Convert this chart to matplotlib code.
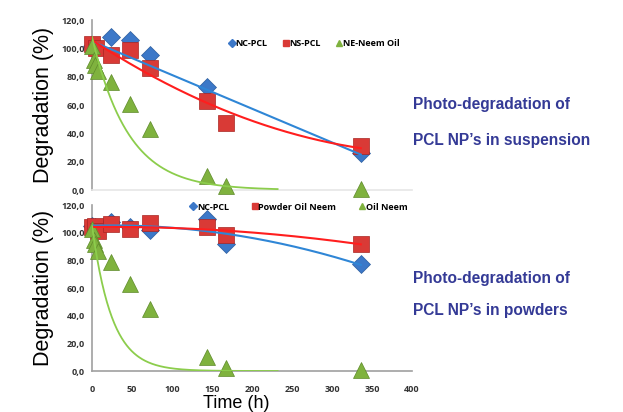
import numpy as np
import matplotlib
matplotlib.use("Agg")
import matplotlib.pyplot as plt
from matplotlib.lines import Line2D

# ---------------- data ----------------
# Top panel: suspension
top_nc_t = [0, 24, 48, 72, 144, 336]
top_nc_y = [102, 108, 106, 95, 73, 26]
top_nc_trend = (105.0, -0.238)     # linear trendline: intercept, slope
top_ns_t = [0, 5, 24, 48, 72, 144, 168, 336]
top_ns_y = [103, 100, 95, 99, 86, 63, 47, 31]
top_ne_t = [0, 2, 4, 8, 24, 48, 72, 144, 168, 336]
top_ne_y = [102, 92, 88, 84, 76, 61, 43, 10, 3, 0.5]
top_green_trend = (108.0, 0.022)   # a*exp(-k t)
# Bottom panel: powders
bot_nc_t = [0, 4, 24, 48, 72, 144, 168, 336]
bot_nc_y = [105, 104, 108, 104, 102, 110, 92, 77]
bot_pw_t = [0, 4, 8, 24, 48, 72, 144, 168, 336]
bot_pw_y = [104, 105, 101, 106, 103, 107, 104, 98, 92]
bot_oil_t = [0, 2, 4, 8, 24, 48, 72, 144, 168, 336]
bot_oil_y = [103, 95, 92, 87, 79, 63, 45, 10, 2, 0.5]
bot_green_trend = (105.0, 0.040)
green_trend_end = 232

yticks = [0, 20, 40, 60, 80, 100, 120]
xticks = [0, 50, 100, 150, 200, 250, 300, 350, 400]
top_legend = ["NC-PCL", "NS-PCL", "NE-Neem Oil"]
bot_legend = ["NC-PCL", "Powder Oil Neem", "Oil Neem"]

BLUE = "#3C78C8"
RED = "#D93A36"
GREEN = "#7FB23E"
LBLUE = "#2F86D6"
LRED = "#FF1E1E"
LGREEN = "#8CCD4C"
TXT = "#343A96"
ARIAL = ['Liberation Sans', 'DejaVu Sans']

plt.rcParams['font.family'] = ['Open Sans', 'DejaVu Sans']

fig = plt.figure(figsize=(6.23, 4.12), dpi=100)
ax1 = fig.add_axes([0.1477, 0.5388, 0.5136, 0.4126])
ax2 = fig.add_axes([0.1477, 0.0995, 0.5136, 0.4029])


def fmt(v):
    return f"{v:.1f}".replace(".", ",")


def style(ax, show_x):
    ax.set_xlim(0, 400)
    ax.set_ylim(0, 120)
    ax.set_yticks(yticks)
    ax.set_yticklabels([fmt(v) for v in yticks], fontsize=6.5, fontweight='bold', color='#333333')
    ax.set_xticks(xticks)
    if show_x:
        ax.set_xticklabels([str(v) for v in xticks], fontsize=6.5, fontweight='bold', color='#333333')
    else:
        ax.set_xticklabels([])
    ax.tick_params(axis='y', length=0, pad=5)
    ax.tick_params(axis='x', length=0, pad=10)
    for s in ['top', 'right']:
        ax.spines[s].set_visible(False)
    ax.spines['left'].set_color('#A0A0A0')
    ax.spines['left'].set_linewidth(1.2)
    ax.spines['bottom'].set_color('#A0A0A0' if show_x else '#E6E6E6')
    ax.spines['bottom'].set_linewidth(1.2)
    ax.set_ylabel("Degradation (%)", fontsize=15.5, family=ARIAL)
    ax.yaxis.set_label_coords(-0.12, 0.5)


def poly_trend(ax, t, y, color, deg):
    c = np.polyfit(t, y, deg)
    tt = np.linspace(0, max(t), 200)
    ax.plot(tt, np.polyval(c, tt), color=color, lw=1.5, zorder=4)


def lin_trend(ax, t, params, color):
    b0, b1 = params
    tt = np.linspace(0, max(t), 50)
    ax.plot(tt, b0 + b1 * tt, color=color, lw=1.5, zorder=4)


def exp_trend(ax, params, color):
    a, k = params
    tt = np.linspace(0, green_trend_end, 300)
    ax.plot(tt, a * np.exp(-k * tt), color=color, lw=1.3, zorder=4)


mk = dict(markeredgewidth=0.5, linestyle='none', zorder=3, clip_on=False)

# top panel
style(ax1, False)
ax1.plot(top_nc_t, top_nc_y, marker='D', ms=9, color=BLUE, markeredgecolor='#2C5E9E', **mk)
ax1.plot(top_ns_t, top_ns_y, marker='s', ms=11, color=RED, markeredgecolor='#A82522', **mk)
ax1.plot(top_ne_t, top_ne_y, marker='^', ms=12, color=GREEN, markeredgecolor='#5E8A2A', **mk)
lin_trend(ax1, top_nc_t, top_nc_trend, LBLUE)
poly_trend(ax1, top_ns_t, top_ns_y, LRED, 2)
exp_trend(ax1, top_green_trend, LGREEN)

# bottom panel
style(ax2, True)
ax2.plot(bot_nc_t, bot_nc_y, marker='D', ms=9, color=BLUE, markeredgecolor='#2C5E9E', **mk)
ax2.plot(bot_pw_t, bot_pw_y, marker='s', ms=11, color=RED, markeredgecolor='#A82522', **mk)
ax2.plot(bot_oil_t, bot_oil_y, marker='^', ms=12, color=GREEN, markeredgecolor='#5E8A2A', **mk)
poly_trend(ax2, bot_nc_t, bot_nc_y, LBLUE, 2)
poly_trend(ax2, bot_pw_t, bot_pw_y, LRED, 2)
exp_trend(ax2, bot_green_trend, LGREEN)
ax2.set_xlabel("Time (h)", fontsize=13, family=ARIAL)
ax2.xaxis.set_label_coords(0.45, -0.145)


def legend(ax, labels, loc, spacing):
    h = [Line2D([], [], marker='D', ms=4, color=BLUE, linestyle='none'),
         Line2D([], [], marker='s', ms=5, color=RED, linestyle='none'),
         Line2D([], [], marker='^', ms=5, color=GREEN, linestyle='none')]
    ax.legend(h, labels, loc='upper left', bbox_to_anchor=loc, ncol=3, frameon=False,
              prop={'size': 6.5, 'weight': 'bold'}, handlelength=0.5, handletextpad=0.15,
              columnspacing=spacing, borderaxespad=0, borderpad=0)


legend(ax1, top_legend, (0.43, 0.89), 1.8)
legend(ax2, bot_legend, (0.31, 1.015), 2.6)

for y, s in [(105, "Photo-degradation of"), (140, "PCL NP\u2019s in suspension"),
             (278, "Photo-degradation of"), (310, "PCL NP\u2019s in powders")]:
    fig.text(413 / 623, 1 - y / 412, s, fontsize=11.2, fontweight='bold',
             color=TXT, va='center', family=ARIAL)

fig.savefig("out.png", dpi=100)
